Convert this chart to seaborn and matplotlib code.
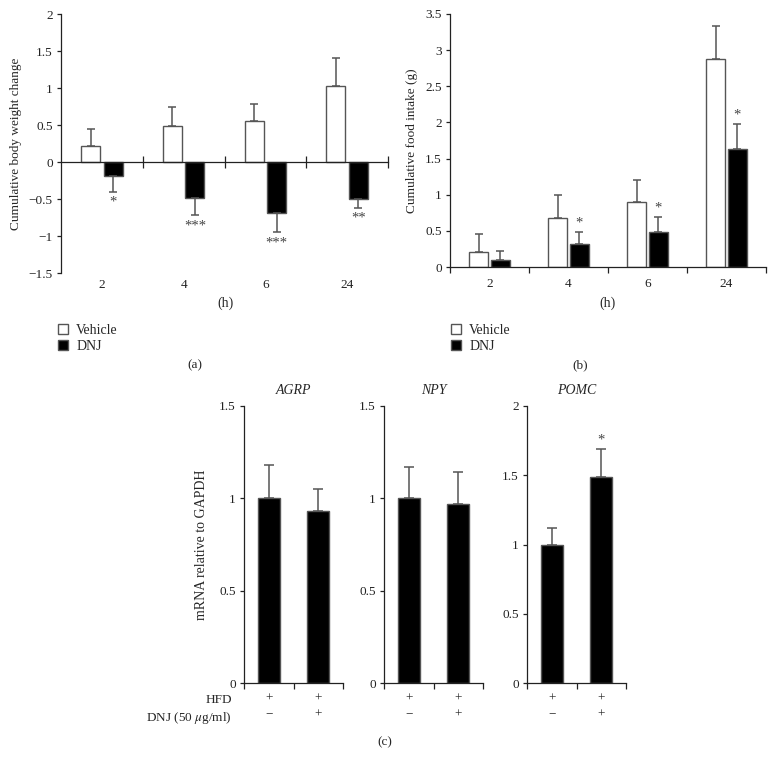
import matplotlib
matplotlib.use("Agg")
import matplotlib.pyplot as plt
import matplotlib.transforms as mtransforms
import seaborn as sns
import pandas as pd
import numpy as np

# ---------------- data ----------------
hours = ["2", "4", "6", "24"]
groups = ["Vehicle", "DNJ"]

bw_vehicle = [0.21, 0.48, 0.56, 1.03]
bw_vehicle_err = [0.24, 0.27, 0.22, 0.38]
bw_dnj = [-0.19, -0.49, -0.69, -0.50]
bw_dnj_err = [0.21, 0.23, 0.26, 0.12]
bw_dnj_sig = ["*", "***", "***", "**"]

fi_vehicle = [0.21, 0.68, 0.90, 2.88]
fi_vehicle_err = [0.25, 0.31, 0.30, 0.45]
fi_dnj = [0.10, 0.32, 0.49, 1.63]
fi_dnj_err = [0.12, 0.17, 0.20, 0.35]
fi_dnj_sig = ["", "*", "*", "*"]

genes = ["AGRP", "NPY", "POMC"]
hfd_row = ["+", "+"]
dnj_row = ["\u2212", "+"]
mrna_vals = {"AGRP": [1.00, 0.93], "NPY": [1.00, 0.97], "POMC": [1.00, 1.49]}
mrna_errs = {"AGRP": [0.18, 0.12], "NPY": [0.17, 0.17], "POMC": [0.12, 0.20]}
mrna_sig = {"AGRP": ["", ""], "NPY": ["", ""], "POMC": ["", "*"]}
mrna_ylim = {"AGRP": (0, 1.5), "NPY": (0, 1.5), "POMC": (0, 2)}
mrna_yticks = {"AGRP": [0, 0.5, 1, 1.5], "NPY": [0, 0.5, 1, 1.5], "POMC": [0, 0.5, 1, 1.5, 2]}

# ---------------- style ----------------
sns.set_theme(style="ticks")
plt.rcParams["font.family"] = ["Liberation Serif", "DejaVu Serif"]
plt.rcParams["mathtext.fontset"] = "stix"
FS = 9.5
EDGE = "#555555"
ERRC = "#555555"

W, H = 775, 769
fig = plt.figure(figsize=(W / 100, H / 100), dpi=100)


def ax_px(left, top, right, bottom):
    return fig.add_axes([left / W, 1 - bottom / H, (right - left) / W, (bottom - top) / H])


def fmt(v):
    s = ("%g" % abs(v))
    return ("\u2212" + s) if v < 0 else s


def style_axis(ax):
    for sp in ["top", "right"]:
        ax.spines[sp].set_visible(False)
    for sp in ["left", "bottom"]:
        ax.spines[sp].set_color("#222222")
        ax.spines[sp].set_linewidth(0.9)
    ax.tick_params(axis="y", direction="out", length=3, width=0.9, labelsize=FS, colors="#222222", pad=3)


def grouped_panel(ax, veh, veh_err, dnj, dnj_err, sig, ylim, yticks, ylabel, zero_axis):
    df = pd.DataFrame({
        "hour": hours * 2,
        "group": [groups[0]] * len(hours) + [groups[1]] * len(hours),
        "value": list(veh) + list(dnj),
    })
    sns.barplot(data=df, x="hour", y="value", hue="group", order=hours, hue_order=groups,
                palette={"Vehicle": "white", "DNJ": "black"}, edgecolor=EDGE, linewidth=1.0,
                width=0.55, gap=0.15, errorbar=None, ax=ax, legend=True)
    errs = list(veh_err) + list(dnj_err)
    vals = list(veh) + list(dnj)
    sigs = [""] * len(hours) + list(sig)
    bars = ax.patches[: len(vals)]
    yr = ylim[1] - ylim[0]
    for bar, v, e, s in zip(bars, vals, errs, sigs):
        xc = bar.get_x() + bar.get_width() / 2
        if v >= 0:
            ax.errorbar(xc, v, yerr=[[0], [e]], fmt="none", ecolor=ERRC, elinewidth=1.1, capsize=3, capthick=1.1)
            if s:
                ax.text(xc, v + e + 0.01 * yr, s, ha="center", va="bottom", fontsize=FS + 1, color="#444444")
        else:
            ax.errorbar(xc, v, yerr=[[e], [0]], fmt="none", ecolor=ERRC, elinewidth=1.1, capsize=3, capthick=1.1)
            if s:
                ax.text(xc, v - e - 0.015 * yr, s, ha="center", va="top", fontsize=FS + 1, color="#444444")
    ax.set_ylim(*ylim)
    ax.set_yticks(yticks)
    ax.set_yticklabels([fmt(t) for t in yticks])
    ax.set_xlim(-0.5, len(hours) - 0.5)
    ax.set_ylabel(ylabel, fontsize=FS, labelpad=5)
    ax.set_xlabel("")
    style_axis(ax)
    ax.set_xticks(np.arange(len(hours)))
    ax.set_xticks(np.arange(len(hours) + 1) - 0.5, minor=True)
    if zero_axis:
        ax.spines["bottom"].set_position(("data", 0))
        ax.set_xticklabels([])
        ax.tick_params(axis="x", which="major", length=0)
        ax.tick_params(axis="x", which="minor", direction="inout", length=8, width=0.9, colors="#222222")
        trans = mtransforms.blended_transform_factory(ax.transData, ax.transAxes)
        for i, h in enumerate(hours):
            ax.text(i, -0.025, h, transform=trans, ha="center", va="top", fontsize=FS, color="#222222")
        ax.set_xticks([0.5, 1.5, 2.5, 3.5], minor=True)
    else:
        ax.set_xticklabels(hours)
        ax.tick_params(axis="x", which="major", length=0, labelsize=FS, pad=8, colors="#222222")
        ax.tick_params(axis="x", which="minor", direction="out", length=4, width=0.9, colors="#222222")
    h_, l_ = ax.get_legend_handles_labels()
    ax.get_legend().remove()
    return h_, l_


# ---------------- panel (a) ----------------
axA = ax_px(61, 14, 388, 273)
hA, lA = grouped_panel(axA, bw_vehicle, bw_vehicle_err, bw_dnj, bw_dnj_err, bw_dnj_sig,
                       (-1.5, 2), [-1.5, -1, -0.5, 0, 0.5, 1, 1.5, 2],
                       "Cumulative body weight change", zero_axis=True)
fig.text(225 / W, 1 - 303 / H, "(h)", ha="center", va="center", fontsize=FS + 0.5)
fig.legend(hA, lA, loc="upper left", bbox_to_anchor=(52 / W, 1 - 318 / H), frameon=False,
           fontsize=FS + 0.5, handlelength=0.75, handleheight=0.75, handletextpad=0.6,
           labelspacing=0.25, borderaxespad=0)
fig.text(195 / W, 1 - 365 / H, "(a)", ha="center", va="center", fontsize=FS)

# ---------------- panel (b) ----------------
axB = ax_px(450, 14, 766, 267)
hB, lB = grouped_panel(axB, fi_vehicle, fi_vehicle_err, fi_dnj, fi_dnj_err, fi_dnj_sig,
                       (0, 3.5), [0, 0.5, 1, 1.5, 2, 2.5, 3, 3.5],
                       "Cumulative food intake (g)", zero_axis=False)
fig.text(608 / W, 1 - 303 / H, "(h)", ha="center", va="center", fontsize=FS + 0.5)
fig.legend(hB, lB, loc="upper left", bbox_to_anchor=(445 / W, 1 - 318 / H), frameon=False,
           fontsize=FS + 0.5, handlelength=0.75, handleheight=0.75, handletextpad=0.6,
           labelspacing=0.25, borderaxespad=0)
fig.text(580 / W, 1 - 365 / H, "(b)", ha="center", va="center", fontsize=FS)

# ---------------- panel (c) ----------------
lefts = {"AGRP": 244, "NPY": 384, "POMC": 527}
for k, g in enumerate(genes):
    L = lefts[g]
    ax = ax_px(L, 406, L + 99, 683)
    conds = ["c1", "c2"]
    dfc = pd.DataFrame({"cond": conds, "value": mrna_vals[g]})
    sns.barplot(data=dfc, x="cond", y="value", order=conds, color="black", edgecolor=EDGE,
                linewidth=1.0, width=0.45, errorbar=None, ax=ax)
    ylim = mrna_ylim[g]
    for bar, v, e, s in zip(ax.patches, mrna_vals[g], mrna_errs[g], mrna_sig[g]):
        xc = bar.get_x() + bar.get_width() / 2
        ax.errorbar(xc, v, yerr=[[0], [e]], fmt="none", ecolor=ERRC, elinewidth=1.1, capsize=3.5, capthick=1.1)
        if s:
            ax.text(xc, v + e + 0.01 * (ylim[1] - ylim[0]), s, ha="center", va="bottom",
                    fontsize=FS + 1, color="#444444")
    ax.set_ylim(*ylim)
    ax.set_xlim(-0.5, 1.5)
    ax.set_yticks(mrna_yticks[g])
    ax.set_yticklabels([fmt(t) for t in mrna_yticks[g]])
    style_axis(ax)
    ax.set_xticks([0, 1])
    ax.set_xticklabels([f"{a}\n{b}" for a, b in zip(hfd_row, dnj_row)], linespacing=1.45)
    ax.set_xticks([-0.5, 0.5, 1.5], minor=True)
    ax.tick_params(axis="x", which="major", length=0, labelsize=FS, pad=7, colors="#222222")
    ax.tick_params(axis="x", which="minor", direction="out", length=4, width=0.9, colors="#222222")
    ax.set_xlabel("")
    ax.set_ylabel("mRNA relative to GAPDH" if k == 0 else "", fontsize=FS + 0.5, labelpad=8)
    ax.set_title(g, fontsize=FS + 0.5, style="italic", pad=9)

fig.text(232 / W, 1 - 700 / H, "HFD", ha="right", va="center", fontsize=FS)
fig.text(232 / W, 1 - 718 / H, "DNJ (50 $\\mu$g/ml)", ha="right", va="center", fontsize=FS)
fig.text(385 / W, 1 - 742 / H, "(c)", ha="center", va="center", fontsize=FS)

fig.savefig("out.png", dpi=100)
